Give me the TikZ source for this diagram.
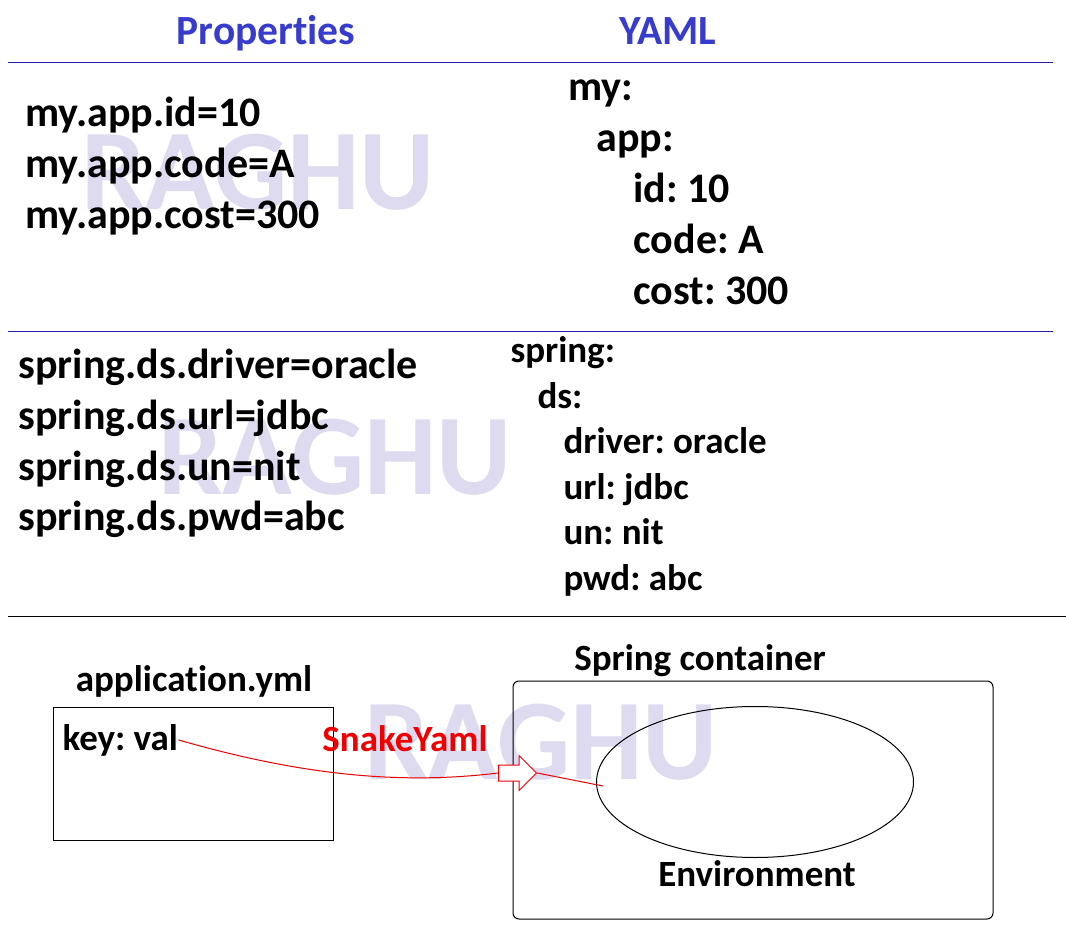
\documentclass[tikz,border=0pt]{standalone}
\usepackage{fontspec}
\setmainfont{Carlito}[Ligatures=CommonOff]
\usepackage{xcolor}
\usetikzlibrary{positioning}
\usetikzlibrary{shapes.arrows}
\usetikzlibrary{shapes.geometric}
\usetikzlibrary{math}
\definecolor{headblue}{RGB}{55,60,205}
\definecolor{ruleblue}{RGB}{30,30,170}
\definecolor{watermark}{RGB}{222,218,240}
\definecolor{snakered}{RGB}{240,0,0}
\frenchspacing

\begin{document}
\begin{tikzpicture}[x=1pt,y=-1pt,line width=1pt,
  txt/.style={anchor=base west, inner sep=0pt, font=\bfseries\fontsize{42}{42}\selectfont},
  small/.style={anchor=base west, inner sep=0pt, font=\bfseries\fontsize{37}{37}\selectfont},
  head/.style={anchor=base, inner sep=0pt, text=headblue, font=\bfseries\fontsize{41.5}{41.5}\selectfont},
  water/.style={inner sep=0pt, text=watermark, font=\bfseries\fontsize{115}{115}\selectfont}]

  \tikzmath{
    \gap   = 51;    % line spacing upper block
    \lgap  = 50.5;  % line spacing properties of lower block
    \sgap  = 45.4;  % line spacing yaml of lower block
  }

  \useasboundingbox[fill=white] (0,0) rectangle (1066,949);

  % watermarks
  \node[water] (w1) at (258,172) {RAGHU};
  \node[water] (w2) at (335,457) {RAGHU};
  \node[water] (w3) at (541,742) {RAGHU};

  % headings and rules
  \node[head] (prop) at (266,45) {Properties};
  \node[head] (yaml) at (668,45) {YAML};
  \draw[ruleblue] (8,63) -- (1053,63);
  \draw[ruleblue] (8,332) -- (1053,332);
  \draw[black] (8,616) -- (1066,616);

  % first example
  \node[txt] (p1) at (25,127) {my.app.id=10};
  \node[txt] (p2) at (25,127+\gap) {my.app.code=A};
  \node[txt] (p3) at (25,127+2*\gap) {my.app.cost=300};

  \node[txt] (y1) at (568,101) {my:};
  \node[txt] (y2) at (596,101+\gap) {app:};
  \node[txt] (y3) at (633,101+2*\gap) {id: 10};
  \node[txt] (y4) at (633,101+3*\gap) {code: A};
  \node[txt] (y5) at (633,101+4*\gap) {cost: 300};

  % second example
  \node[txt] (s1) at (18,379) {spring.ds.driver=oracle};
  \node[txt] (s2) at (18,379+\lgap) {spring.ds.url=jdbc};
  \node[txt] (s3) at (18,379+2*\lgap) {spring.ds.un=nit};
  \node[txt] (s4) at (18,379+3*\lgap) {spring.ds.pwd=abc};

  \node[small] (t1) at (510,363) {spring:};
  \node[small] (t2) at (537,363+\sgap) {ds:};
  \node[small] (t3) at (563,363+2*\sgap) {driver: oracle};
  \node[small] (t4) at (563,363+3*\sgap) {url: jdbc};
  \node[small] (t5) at (563,363+4*\sgap) {un: nit};
  \node[small] (t6) at (563,363+5*\sgap) {pwd: abc};

  % application.yml file
  \node[small, anchor=base] (file) at (194,691) {application.yml};
  \draw (53,707) rectangle (333,840);
  \node[small] (key) at (62,750) {key: val};

  % spring container with environment
  \node[small, anchor=base] (cont) at (700,670) {Spring container};
  \draw[rounded corners=6pt] (513,681) rectangle (993,919);
  \node[draw, ellipse, minimum width=317pt, minimum height=151pt] (env) at (755,782) {};
  \node[small, anchor=base] (envlbl) at (757,886) {Environment};

  % SnakeYaml conversion
  \node[small, anchor=base, text=snakered] (lib) at (405,751) {SnakeYaml};
  \node[single arrow, draw=snakered, fill=white, inner xsep=0pt, inner ysep=7.5pt,
        minimum height=38pt, minimum width=34pt, single arrow head extend=9.5pt,
        anchor=west] (conv) at (498,773) {};
  \draw[snakered] (key.east) .. controls (300,775) and (400,785) .. (conv.west);
  \draw[snakered] (conv.east) -- (603,786);

\end{tikzpicture}
\end{document}
